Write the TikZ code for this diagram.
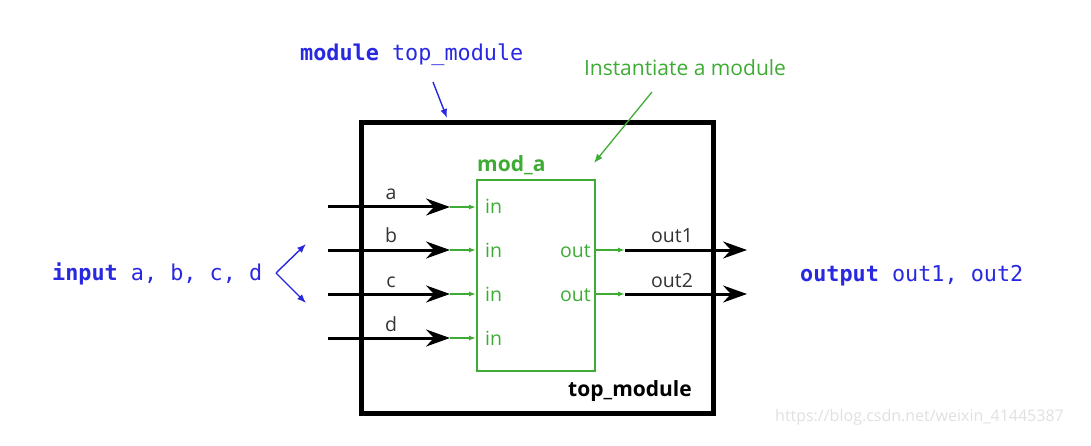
\documentclass[tikz,border=0pt]{standalone}
\usepackage{fontspec}
\setmainfont{Open Sans}
\setmonofont{DejaVu Sans Mono}
\usetikzlibrary{arrows.meta}
\definecolor{vblue}{RGB}{40,40,225}
\definecolor{vgreen}{RGB}{62,172,52}
\newcommand{\us}{\char"5F\relax}
\tikzset{
  sig/.style={line width=3pt, -{Stealth[length=24pt,width=17pt,inset=8pt]}},
  gsig/.style={vgreen, line width=1.4pt, -{Latex[length=7pt,width=5pt]}},
  lbl/.style={font=\fontsize{19.5}{22}\selectfont, inner sep=0pt, text=black!80},
  glbl/.style={font=\fontsize{19.5}{22}\selectfont, inner sep=0pt, text=vgreen},
  code/.style={font=\ttfamily\fontsize{21.8}{25}\selectfont, text=vblue, inner sep=0pt},
  barrow/.style={vblue, line width=1.4pt, -{Latex[length=9pt,width=7pt]}},
  garrow/.style={vgreen, line width=1.3pt, -{Latex[length=9pt,width=7pt]}},
}
\begin{document}
\begin{tikzpicture}[x=1pt,y=-1pt]
\useasboundingbox (0,0) rectangle (1091,446);
% outer box
\node[draw, line width=5pt, minimum width=352pt, minimum height=291pt, inner sep=0pt, anchor=north west] (top) at (358.5,120) {};
\node[font=\bfseries\fontsize{21}{24}\selectfont, inner sep=0pt, anchor=east] (toplbl) at (692,391) {top\us module};
% inner box
\node[draw=vgreen, line width=2.4pt, minimum width=118pt, minimum height=191pt, inner sep=0pt, anchor=north west] (moda) at (476,179) {};
\node[font=\bfseries\fontsize{21}{24}\selectfont, text=vgreen, inner sep=0pt, anchor=base west] (modalbl) at (477,172) {mod\us a};
% input signals
\foreach \n/\y in {a/207,b/250,c/294,d/338}{
  \coordinate (s\n) at (328,\y);
  \coordinate (m\n) at (450,\y);
  \coordinate (p\n) at (476,\y);
  \draw[sig] (s\n) -- (m\n);
  \draw[gsig] (m\n) -- (p\n);
  \node[lbl, anchor=base] (l\n) at (391,\y-7) {\n};
  \node[glbl, anchor=base west] (i\n) at (485,\y+7) {in};
}
% output signals
\foreach \n/\y in {1/250,2/294}{
  \coordinate (q\n) at (594,\y);
  \coordinate (r\n) at (625,\y);
  \coordinate (e\n) at (747,\y);
  \draw[gsig] (q\n) -- (r\n);
  \draw[sig] (r\n) -- (e\n);
  \node[lbl, anchor=base] (lo\n) at (672,\y-7) {out\n};
  \node[glbl, anchor=base east] (o\n) at (591,\y+7) {out};
}
% annotations
\node[code, anchor=base west] (modtxt) at (300,61) {\textbf{module} top\us module};
\coordinate (modtail) at (433,82);
\coordinate (modtip) at (447,118);
\draw[barrow] (modtail) -- (modtip);
\node[glbl, font=\fontsize{21}{24}\selectfont, anchor=base] (inst) at (685,76) {Instantiate a module};
\coordinate (insttail) at (652,92);
\coordinate (insttip) at (594,163);
\draw[garrow] (insttail) -- (insttip);
\node[code, anchor=base west] (intxt) at (52,280) {\textbf{input} a, b, c, d};
\coordinate (v) at (276,273);
\coordinate (vu) at (306,244);
\coordinate (vd) at (306,303);
\draw[barrow] (v) -- (vu);
\draw[barrow] (v) -- (vd);
\node[code, anchor=base west] (outtxt) at (800,281) {\textbf{output} out1, out2};
\node[font=\fontsize{16}{18}\selectfont, text=black!12, inner sep=0pt, anchor=base east] (wm) at (1064,421) {https://blog.csdn.net/weixin\us 41445387};
\end{tikzpicture}
\end{document}
